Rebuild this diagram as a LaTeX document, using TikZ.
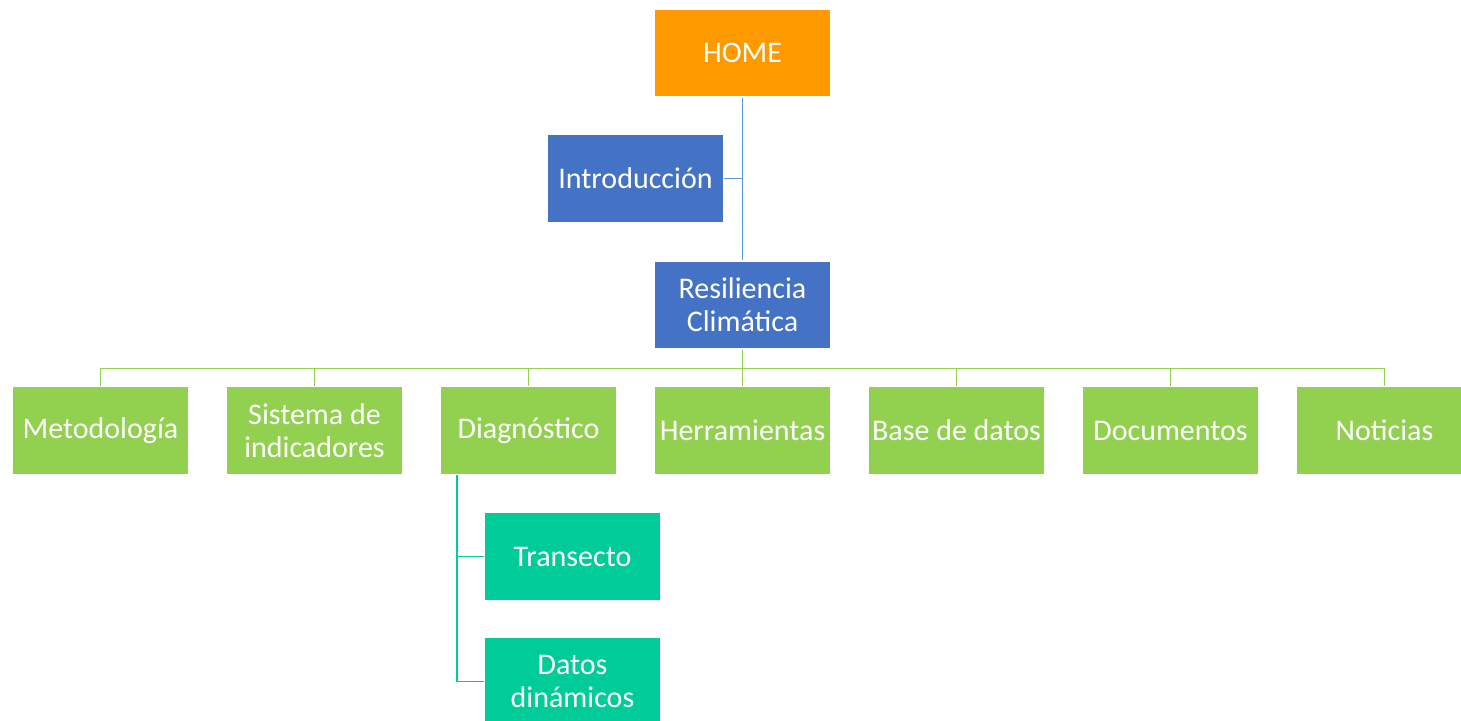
\documentclass[tikz,border=0pt]{standalone}
\usepackage{fontspec}
\setmainfont{Carlito}
\usepackage{tikz}
\usetikzlibrary{positioning,calc}
\definecolor{homeorange}{HTML}{FF9900}
\definecolor{secblue}{HTML}{4472C4}
\definecolor{pagegreen}{HTML}{92D050}
\definecolor{subteal}{HTML}{00CC99}
\definecolor{linkblue}{HTML}{5B9BD5}

\begin{document}
\begin{tikzpicture}[
  node distance=18.2pt and 18.4pt,
  box/.style={draw=white,line width=0.6pt,text=white,align=center,inner sep=0pt,
    minimum width=88pt,minimum height=44pt,font=\fontsize{15}{16.5}\selectfont},
  link/.style={line width=0.8pt,draw=#1}
]
\clip (0,0) rectangle (730.5pt,-360.5pt);
\node[box,fill=homeorange] (home) at (371.25pt,-26.5pt) {HOME};
\node[box,fill=secblue] (intro) at (317.75pt,-89.25pt) {Introducción};
\node[box,fill=secblue,below=81.4pt of home] (res) {Resiliencia\\Climática};
\node[box,fill=pagegreen,below=of res] (herr) {Herramientas};
\node[box,fill=pagegreen,left=of herr] (diag) {Diagnóstico};
\node[box,fill=pagegreen,left=of diag] (sist) {Sistema de\\indicadores};
\node[box,fill=pagegreen,left=of sist] (meto) {Metodología};
\node[box,fill=pagegreen,right=of herr] (base) {Base de datos};
\node[box,fill=pagegreen,right=of base] (docs) {Documentos};
\node[box,fill=pagegreen,right=of docs] (noti) {Noticias};
\node[box,fill=subteal,below=18.4pt of diag,xshift=22pt] (tran) {Transecto};
\node[box,fill=subteal,below=17.9pt of tran] (dato) {Datos\\dinámicos};
% home branch
\draw[link=linkblue] (home.south) -- (res.north);
\draw[link=linkblue] (intro.east) -- (intro.east -| home.south);
% section branch
\coordinate (bus) at ($(res.south)+(0,-9.5pt)$);
\foreach \v in {meto,sist,diag,herr,base,docs,noti} {\draw[link=pagegreen] (res.south) -- (bus) -| (\v.north);}
% sub pages
\coordinate (stem) at ($(diag.south west)+(8.5pt,0)$);
\foreach \v in {tran,dato} {\draw[link=subteal] (stem) |- (\v.west);}
\end{tikzpicture}
\end{document}
